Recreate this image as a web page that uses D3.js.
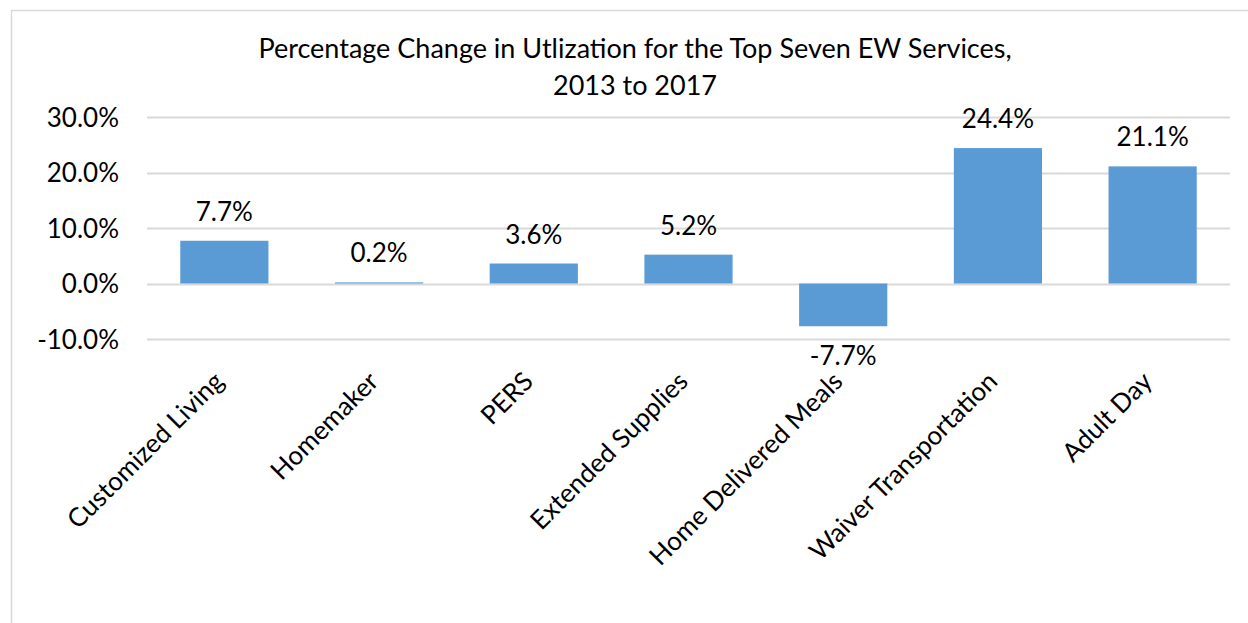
<!DOCTYPE html>
<html>
<head>
<meta charset="utf-8">
<script src="https://cdn.jsdelivr.net/npm/d3@7"></script>
<style>
  body { margin: 0; background: #fff; }
  svg { font-family: Lato, "Open Sans", sans-serif; }
</style>
</head>
<body>
<svg></svg>
<script>
// chart data
var categories = ["Customized Living", "Homemaker", "PERS", "Extended Supplies",
    "Home Delivered Meals", "Waiver Transportation", "Adult Day"];
var values = [7.7, 0.2, 3.6, 5.2, -7.7, 24.4, 21.1];
var yTicks = [-10, 0, 10, 20, 30];
var titleLines = ["Percentage Change in Utlization for the Top Seven EW Services,", "2013 to 2017"];

var W = 1248, H = 623;
var margin = { top: 117, right: 18, bottom: 284, left: 147 },
    width = W - margin.left - margin.right,
    height = H - margin.top - margin.bottom;

var fontSize = "26px";

// Excel style percent, with a plain hyphen for negatives
function pct(d) { return d.toFixed(1) + "%"; }

var svg = d3.select("svg")
    .attr("width", W)
    .attr("height", H);

// outer chart border
svg.append("rect")
    .attr("x", 11.5).attr("y", 10.5)
    .attr("width", W).attr("height", H)
    .attr("fill", "none")
    .attr("stroke", "#d9d9d9")
    .attr("stroke-width", 1.5);

// title
svg.append("text")
    .attr("x", 635)
    .attr("y", 58)
    .attr("text-anchor", "middle")
    .attr("font-size", "27px")
    .attr("fill", "#000")
    .selectAll("tspan")
    .data(titleLines)
    .enter()
    .append("tspan")
    .attr("x", 635)
    .attr("dy", function (d, i) { return i === 0 ? 0 : 37; })
    .text(function (d) { return d; });

var g = svg.append("g")
    .attr("transform", "translate(" + margin.left + "," + margin.top + ")");

var x = d3.scaleBand()
    .domain(categories)
    .range([0, width])
    .paddingInner(0.43)
    .paddingOuter(0.215);

var y = d3.scaleLinear()
    .domain([-10, 30])
    .range([222, 0]);

// gridlines
g.append("g")
    .selectAll("line")
    .data(yTicks)
    .enter()
    .append("line")
    .attr("x1", 0)
    .attr("x2", width)
    .attr("y1", function (d) { return Math.round(y(d)) + 0.5; })
    .attr("y2", function (d) { return Math.round(y(d)) + 0.5; })
    .attr("stroke", "#d9d9d9")
    .attr("stroke-width", 2);

// y axis labels
var yAxis = g.append("g")
    .attr("transform", "translate(-28,0)")
    .call(d3.axisLeft(y).tickValues(yTicks).tickSize(0).tickPadding(0).tickFormat(pct));
yAxis.select(".domain").remove();
yAxis.selectAll("text")
    .attr("font-family", "Lato, 'Open Sans', sans-serif")
    .attr("font-size", fontSize)
    .attr("fill", "#000")
    .attr("dy", "0.35em");

// bars
g.selectAll(".bar")
    .data(values)
    .enter()
    .append("rect")
    .attr("class", "bar")
    .attr("x", function (d, i) { return x(categories[i]); })
    .attr("y", function (d) { return y(Math.max(0, d)); })
    .attr("width", x.bandwidth())
    .attr("height", function (d) { return Math.abs(y(d) - y(0)); })
    .attr("fill", "#5b9bd5");

// data labels
g.selectAll(".lbl")
    .data(values)
    .enter()
    .append("text")
    .attr("class", "lbl")
    .attr("x", function (d, i) { return x(categories[i]) + x.bandwidth() / 2; })
    .attr("y", function (d) { return d >= 0 ? y(d) - 20 : y(d) + 39; })
    .attr("text-anchor", "middle")
    .attr("font-size", fontSize)
    .attr("fill", "#000")
    .text(pct);

// category labels, rotated
var xAxis = g.append("g")
    .attr("transform", "translate(0," + (383 - margin.top) + ")")
    .call(d3.axisBottom(x).tickSize(0).tickPadding(0));
xAxis.select(".domain").remove();
xAxis.selectAll("text")
    .attr("font-family", "Lato, 'Open Sans', sans-serif")
    .attr("font-size", fontSize)
    .attr("fill", "#000")
    .attr("y", 0)
    .attr("dy", 0)
    .attr("transform", "translate(1,0)rotate(-45)")
    .style("text-anchor", "end");
</script>
</body>
</html>
